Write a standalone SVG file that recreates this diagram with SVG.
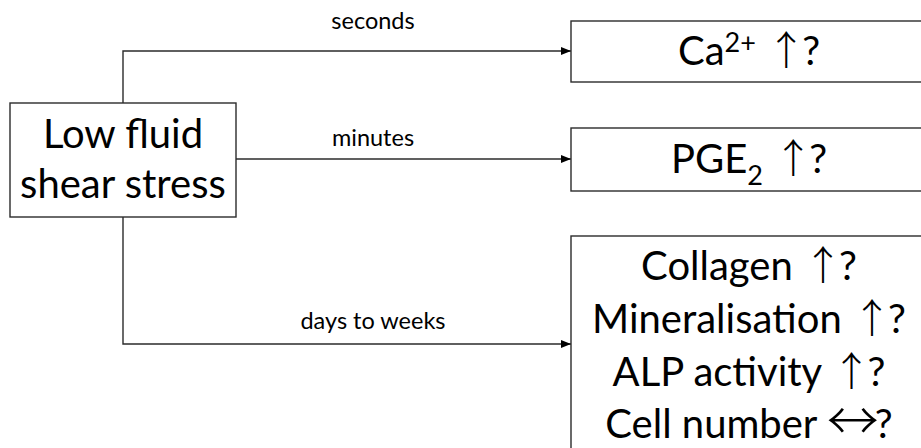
<svg xmlns="http://www.w3.org/2000/svg" width="921" height="448" viewBox="0 0 921 448">
  <style>
    .box { fill: #ffffff; stroke: #2b2b2b; stroke-width: 1.4; }
    .edge { fill: none; stroke: #2b2b2b; stroke-width: 1.4; }
    .big { font-family: Lato, "Liberation Sans", sans-serif; font-size: 40px; fill: #000; text-anchor: middle; }
    .lbl { font-family: Lato, "Liberation Sans", sans-serif; font-size: 23.5px; fill: #000; text-anchor: middle; }
    .sym { font-family: "Noto Sans CJK JP", "DejaVu Sans", sans-serif; font-weight: 300; }
    .wide { font-size: 52px; }
  </style>
  <defs>
    <marker id="arrow" viewBox="0 0 10 8" refX="10" refY="4" markerWidth="10" markerHeight="8" markerUnits="userSpaceOnUse" orient="auto">
      <path d="M0,0 L10,4 L0,8 Z" fill="#000"/>
    </marker>
  </defs>

  <!-- connectors -->
  <g id="connectors">
    <path class="edge" d="M123,103 V51 H571" marker-end="url(#arrow)"/>
    <path class="edge" d="M236,159 H571" marker-end="url(#arrow)"/>
    <path class="edge" d="M123,217 V344 H571" marker-end="url(#arrow)"/>
    <text class="lbl" x="373" y="29">seconds</text>
    <text class="lbl" x="373" y="146">minutes</text>
    <text class="lbl" x="373" y="329">days to weeks</text>
  </g>

  <!-- source node -->
  <g id="stress">
    <rect class="box" x="10" y="103" width="226" height="114"/>
    <text class="big" x="123" y="148">Low fluid</text>
    <text class="big" x="123" y="198">shear stress</text>
  </g>

  <!-- calcium response -->
  <g id="calcium">
    <rect class="box" x="571" y="21" width="356" height="61"/>
    <text class="big" x="749" y="65">Ca<tspan font-size="27" dy="-13">2+</tspan><tspan dy="13"> </tspan><tspan class="sym">↑</tspan><tspan dx="-4">?</tspan></text>
  </g>

  <!-- prostaglandin response -->
  <g id="pge2">
    <rect class="box" x="571" y="128" width="356" height="63"/>
    <text class="big" x="749" y="173">PGE<tspan font-size="27" dy="12">2</tspan><tspan dy="-12"> </tspan><tspan class="sym">↑</tspan><tspan dx="-4">?</tspan></text>
  </g>

  <!-- long-term responses -->
  <g id="longterm">
    <rect class="box" x="571" y="236" width="356" height="230"/>
    <text class="big" x="749" y="280">Collagen <tspan class="sym">↑</tspan><tspan dx="-4">?</tspan></text>
    <text class="big" x="749" y="333">Mineralisation <tspan class="sym">↑</tspan><tspan dx="-4">?</tspan></text>
    <text class="big" x="749" y="386">ALP activity <tspan class="sym">↑</tspan><tspan dx="-4">?</tspan></text>
    <text class="big" x="749" y="438">Cell number <tspan class="sym wide" dy="2">↔</tspan><tspan dx="-4" dy="-2">?</tspan></text>
  </g>
</svg>
